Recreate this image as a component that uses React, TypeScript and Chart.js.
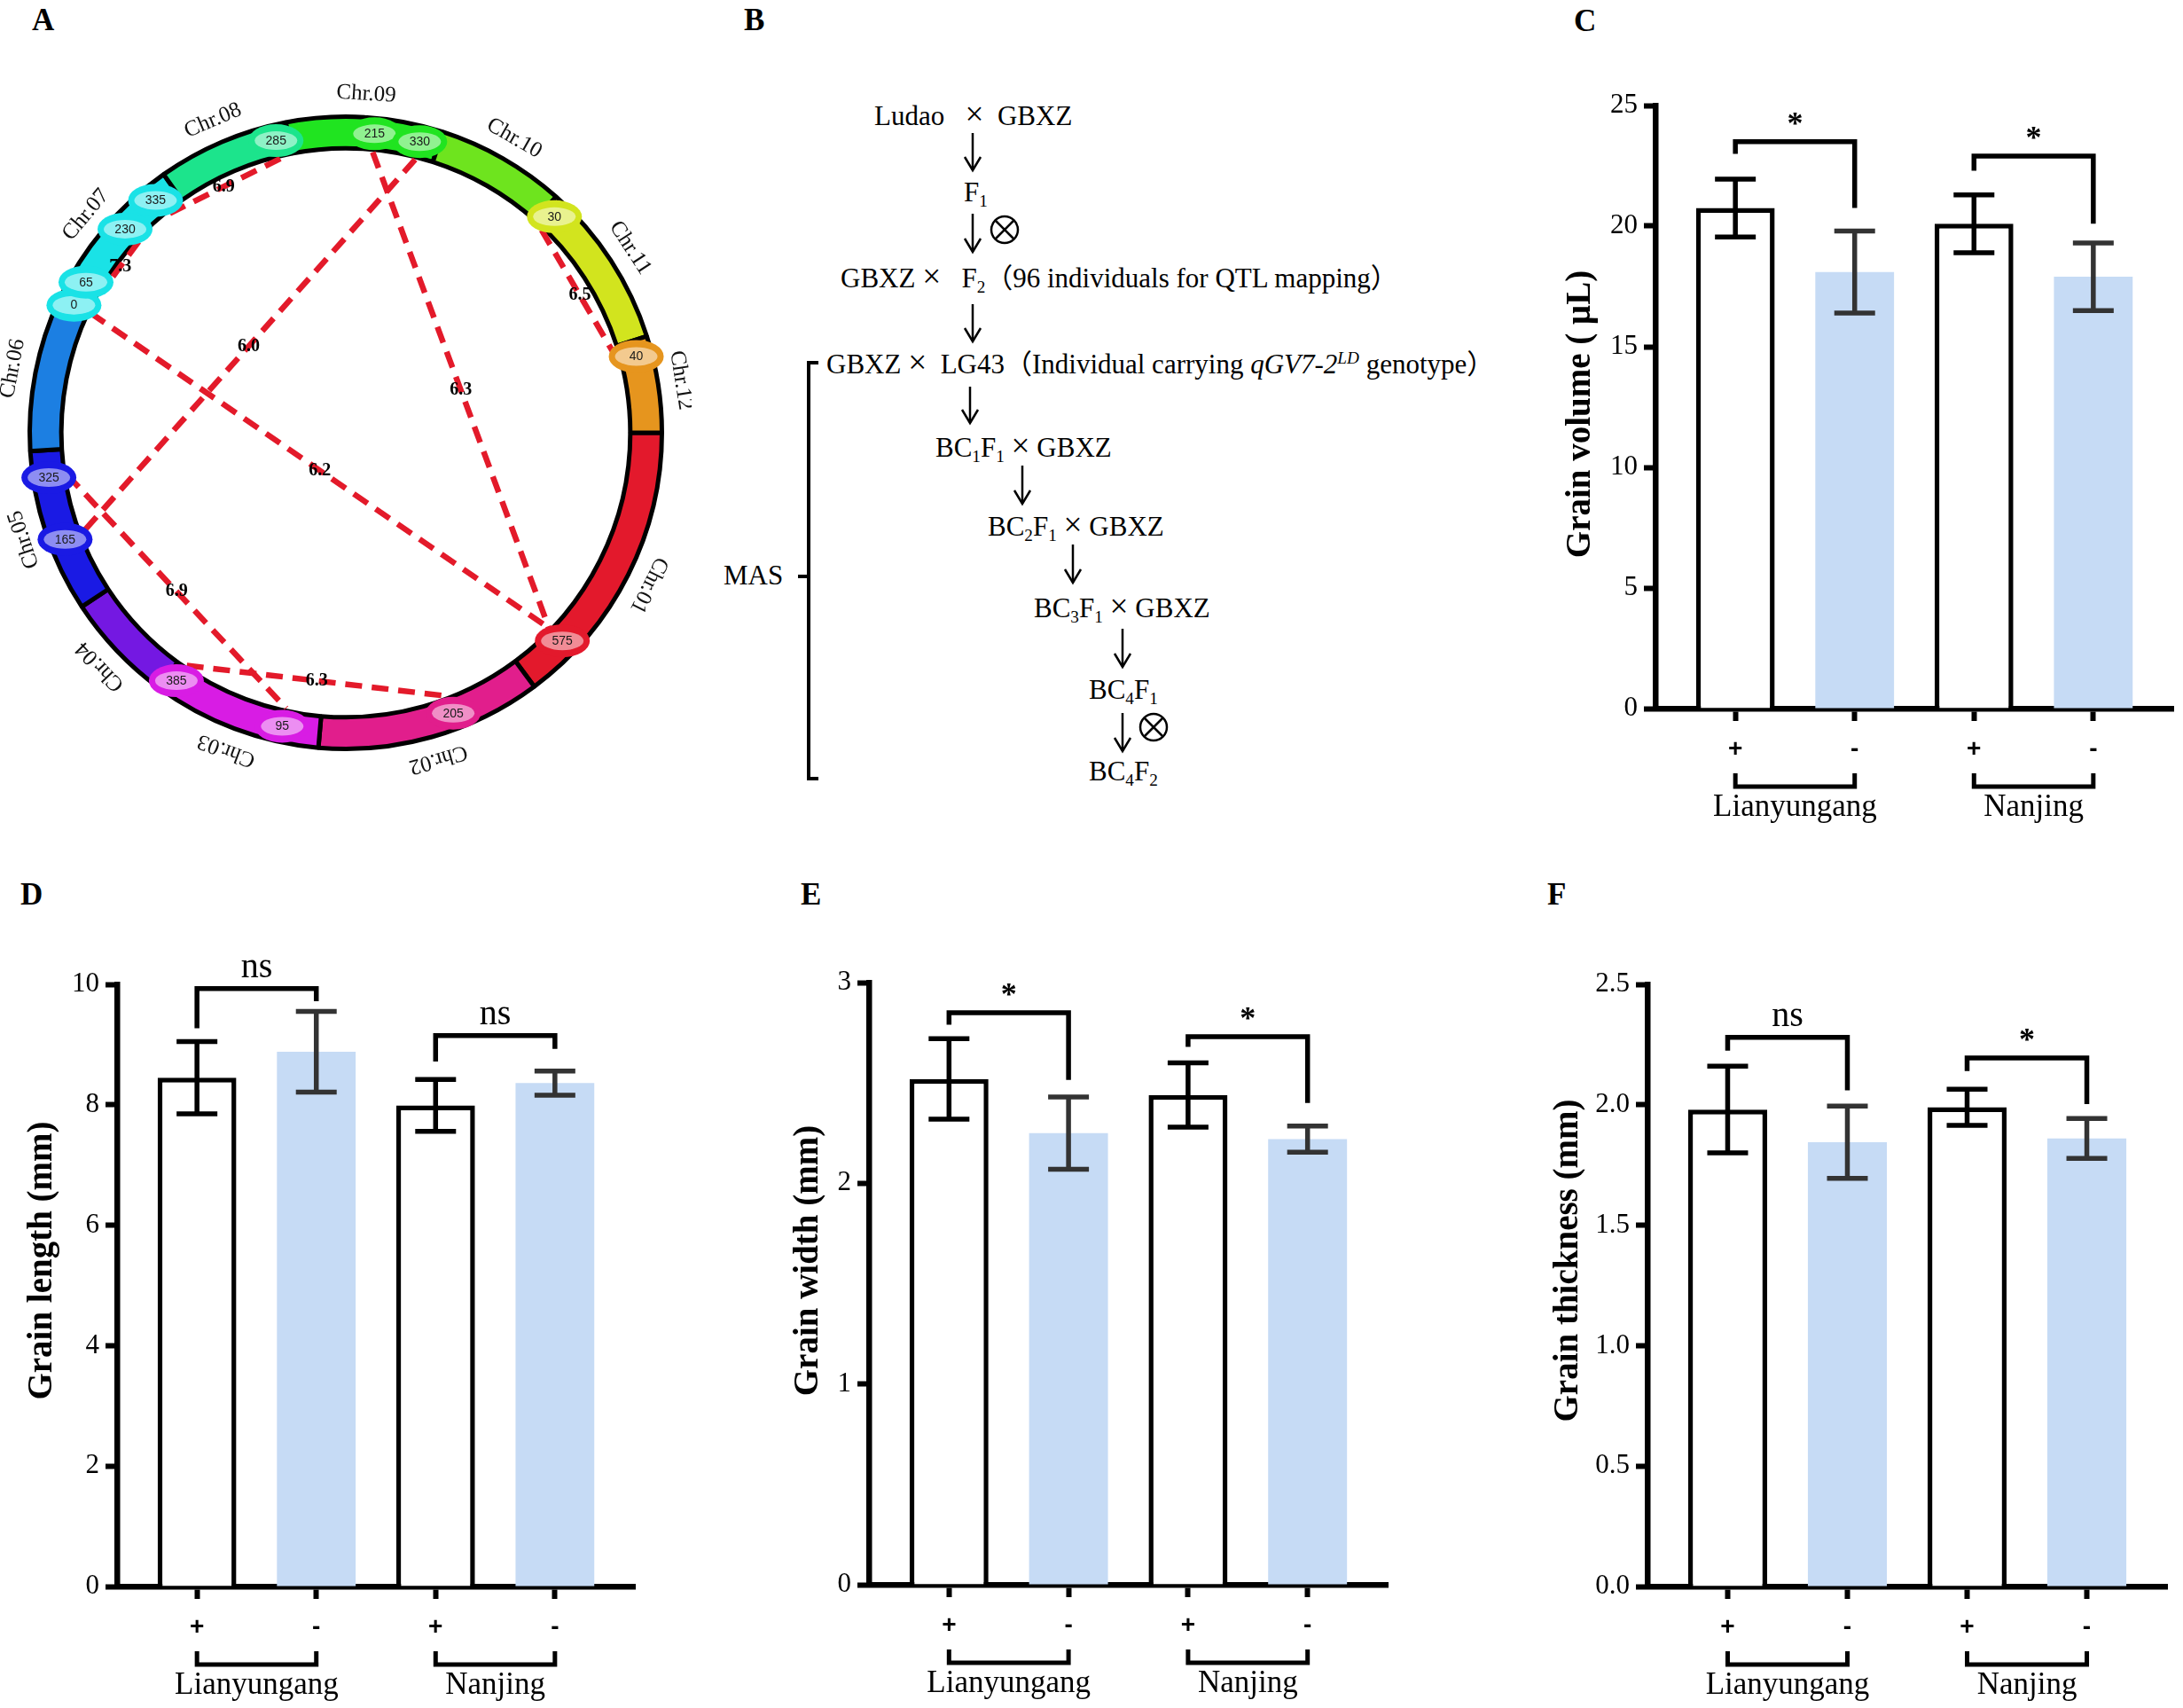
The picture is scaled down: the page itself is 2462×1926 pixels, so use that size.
import React, { useEffect, useRef } from 'react';
import { Chart, registerables } from 'chart.js';

Chart.register(...registerables);

const SERIF = '"Liberation Serif", "Times New Roman", "DejaVu Serif", serif';
const SANS = '"Liberation Sans", Arial, "DejaVu Sans", sans-serif';
Chart.defaults.font.family = SERIF;

// ---------------- Panel A data ----------------
const chrNames = ['Chr.01', 'Chr.02', 'Chr.03', 'Chr.04', 'Chr.05', 'Chr.06', 'Chr.07', 'Chr.08', 'Chr.09', 'Chr.10', 'Chr.11', 'Chr.12'];
const chrLengths = [700, 545, 410, 267, 394, 373, 389, 318, 377, 313, 400, 233];
const chrColors = ['#e3192c', '#e11e8c', '#d81ce4', '#7418e2', '#1a1ae4', '#1c7fe2', '#1ae2e6', '#1ce48c', '#20e420', '#6ee41e', '#d2e41e', '#e6951e'];
const markerChr = [1, 2, 3, 3, 5, 5, 7, 7, 7, 7, 8, 9, 9, 11, 12];
const markerPos = [575, 205, 95, 385, 165, 325, 0, 65, 230, 335, 285, 215, 330, 30, 40];
const linkFrom = [10, 8, 11, 12, 6, 5, 3, 13];
const linkTo = [9, 7, 0, 4, 0, 2, 1, 14];
const linkLod = ['6.9', '7.3', '6.3', '6.0', '6.2', '6.9', '6.3', '6.5'];

// ---------------- Bar panels data ----------------
const genotypes = ['+', '-', '+', '-'];
const locations = ['Lianyungang', 'Nanjing'];

const volumeMean = [20.75, 18.1, 20.1, 17.9];
const volumeErr = [1.2, 1.7, 1.2, 1.4];
const volumeTicks = [0, 5, 10, 15, 20, 25];
const volumeTickLabels = ['0', '5', '10', '15', '20', '25'];
const volumeSig = ['*', '*'];
const volumeSigTop = [23.5, 22.9];
const volumeSigLeft = [23.0, 22.3];
const volumeSigRight = [20.75, 20.1];

const lengthMean = [8.45, 8.88, 7.99, 8.36];
const lengthErr = [0.6, 0.67, 0.43, 0.2];
const lengthTicks = [0, 2, 4, 6, 8, 10];
const lengthTickLabels = ['0', '2', '4', '6', '8', '10'];
const lengthSig = ['ns', 'ns'];
const lengthSigTop = [9.93, 9.15];
const lengthSigLeft = [9.27, 8.72];
const lengthSigRight = [9.72, 8.93];

const widthMean = [2.52, 2.25, 2.44, 2.22];
const widthErr = [0.2, 0.18, 0.16, 0.065];
const widthTicks = [0, 1, 2, 3];
const widthTickLabels = ['0', '1', '2', '3'];
const widthSig = ['*', '*'];
const widthSigTop = [2.85, 2.73];
const widthSigLeft = [2.79, 2.68];
const widthSigRight = [2.515, 2.4];

const thickMean = [1.98, 1.845, 1.99, 1.86];
const thickErr = [0.18, 0.15, 0.075, 0.083];
const thickTicks = [0, 0.5, 1.0, 1.5, 2.0, 2.5];
const thickTickLabels = ['0.0', '0.5', '1.0', '1.5', '2.0', '2.5'];
const thickSig = ['ns', '*'];
const thickSigTop = [2.28, 2.194];
const thickSigLeft = [2.225, 2.14];
const thickSigRight = [2.06, 2.003];

// ---------------- helpers ----------------
function lighten(hex: string, t: number) {
  const n = parseInt(hex.slice(1), 16);
  const r = (n >> 16) & 255, g = (n >> 8) & 255, b = n & 255;
  const m = (c: number) => Math.round(c + (255 - c) * t);
  return `rgb(${m(r)},${m(g)},${m(b)})`;
}

const circosPlugin = {
  id: 'circos',
  afterDatasetsDraw(chart: any) {
    const ctx = chart.ctx as CanvasRenderingContext2D;
    const arcs = chart.getDatasetMeta(0).data as any[];
    if (!arcs.length) return;
    const cx = arcs[0].x, cy = arcs[0].y;
    const rIn = arcs[0].innerRadius, rOut = arcs[0].outerRadius;
    const rMid = (rIn + rOut) / 2;
    const ang = (m: number) => {
      const c = markerChr[m] - 1;
      const a = arcs[c];
      return a.startAngle + (markerPos[m] / chrLengths[c]) * (a.endAngle - a.startAngle);
    };
    const pt = (a: number, r: number) => [cx + r * Math.cos(a), cy + r * Math.sin(a)];
    ctx.save();
    // links
    ctx.strokeStyle = '#e31a2a';
    ctx.lineWidth = 6.5;
    ctx.lineCap = 'butt';
    ctx.setLineDash([19, 11]);
    linkFrom.forEach((f, k) => {
      const [x1, y1] = pt(ang(f), rIn - 3);
      const [x2, y2] = pt(ang(linkTo[k]), rIn - 3);
      ctx.beginPath();
      ctx.moveTo(x1, y1);
      ctx.lineTo(x2, y2);
      ctx.stroke();
    });
    ctx.setLineDash([]);
    // markers
    markerPos.forEach((p, m) => {
      const [x, y] = pt(ang(m), rMid);
      const col = chrColors[markerChr[m] - 1];
      ctx.fillStyle = col;
      ctx.beginPath();
      ctx.ellipse(x, y, 31, 18.5, 0, 0, Math.PI * 2);
      ctx.fill();
      ctx.fillStyle = lighten(col, 0.5);
      ctx.beginPath();
      ctx.ellipse(x, y, 24, 10.5, 0, 0, Math.PI * 2);
      ctx.fill();
      ctx.fillStyle = '#1a1a1a';
      ctx.font = `14px ${SANS}`;
      ctx.textAlign = 'center';
      ctx.textBaseline = 'middle';
      ctx.fillText(String(p), x, y + 0.5);
    });
    // link labels
    ctx.font = `bold 20px ${SERIF}`;
    ctx.fillStyle = '#000';
    ctx.textAlign = 'center';
    ctx.textBaseline = 'middle';
    linkFrom.forEach((f, k) => {
      const [x1, y1] = pt(ang(f), rIn - 3);
      const [x2, y2] = pt(ang(linkTo[k]), rIn - 3);
      ctx.fillText(linkLod[k], (x1 + x2) / 2, (y1 + y2) / 2);
    });
    // chromosome labels
    ctx.font = `25px ${SERIF}`;
    ctx.fillStyle = '#111';
    arcs.forEach((a: any, i: number) => {
      const mid = (a.startAngle + a.endAngle) / 2;
      const [x, y] = pt(mid, rOut + 26);
      ctx.save();
      ctx.translate(x, y);
      ctx.rotate(mid + Math.PI / 2);
      ctx.fillText(chrNames[i], 0, 0);
      ctx.restore();
    });
    ctx.restore();
  },
};

function CircosPanel() {
  const ref = useRef<HTMLCanvasElement>(null);
  useEffect(() => {
    const chart = new Chart(ref.current as HTMLCanvasElement, {
      type: 'doughnut',
      data: {
        labels: chrNames,
        datasets: [
          {
            data: chrLengths,
            backgroundColor: chrColors,
            borderColor: '#000',
            borderWidth: 5,
            hoverOffset: 0,
            offset: 0,
          } as any,
        ],
      },
      options: {
        responsive: false,
        animation: false,
        events: [],
        rotation: 90,
        cutout: '90%',
        layout: { padding: { left: 31, right: 31, top: 129, bottom: 53 } },
        plugins: { legend: { display: false }, tooltip: { enabled: false } },
      } as any,
      plugins: [circosPlugin],
    });
    return () => chart.destroy();
  }, []);
  return <canvas ref={ref} width={780} height={900} style={{ position: 'absolute', left: 0, top: 0, width: 780, height: 900 }} />;
}

type BarSpec = {
  mean: number[];
  err: number[];
  ticks: number[];
  tickLabels: string[];
  sig: string[];
  sigTop: number[];
  sigLeft: number[];
  sigRight: number[];
  title: string;
  titleDist: number;
  titleShift: number;
  padRight: number;
};

function makeDecor(spec: BarSpec) {
  return {
    id: 'decor',
    afterDatasetsDraw(chart: any) {
      const ctx = chart.ctx as CanvasRenderingContext2D;
      const xs = chart.scales.x, ys = chart.scales.y;
      ctx.save();
      ctx.lineWidth = 5.5;
      ctx.lineCap = 'butt';
      spec.mean.forEach((m, i) => {
        const px = xs.getPixelForValue(i);
        const t = ys.getPixelForValue(m + spec.err[i]);
        const b = ys.getPixelForValue(m - spec.err[i]);
        ctx.strokeStyle = genotypes[i] === '+' ? '#000' : '#333';
        ctx.beginPath();
        ctx.moveTo(px, t);
        ctx.lineTo(px, b);
        ctx.moveTo(px - 23, t);
        ctx.lineTo(px + 23, t);
        ctx.moveTo(px - 23, b);
        ctx.lineTo(px + 23, b);
        ctx.stroke();
      });
      ctx.restore();
    },
    afterDraw(chart: any) {
      const ctx = chart.ctx as CanvasRenderingContext2D;
      const xs = chart.scales.x, ys = chart.scales.y;
      const area = chart.chartArea;
      ctx.save();
      ctx.strokeStyle = '#000';
      ctx.fillStyle = '#000';
      ctx.lineJoin = 'miter';
      ctx.lineCap = 'butt';
      // y-axis title
      ctx.save();
      ctx.translate(area.left - spec.titleDist, (area.top + area.bottom) / 2 + spec.titleShift);
      ctx.rotate(-Math.PI / 2);
      ctx.font = `bold 39px ${SERIF}`;
      ctx.textAlign = 'center';
      ctx.textBaseline = 'middle';
      ctx.fillText(spec.title, 0, 0);
      ctx.restore();
      for (let g = 0; g < locations.length; g++) {
        const xL = xs.getPixelForValue(2 * g);
        const xR = xs.getPixelForValue(2 * g + 1);
        const yT = ys.getPixelForValue(spec.sigTop[g]);
        const yL = ys.getPixelForValue(spec.sigLeft[g]);
        const yR = ys.getPixelForValue(spec.sigRight[g]);
        ctx.lineWidth = 5.5;
        ctx.beginPath();
        ctx.moveTo(xL, yL);
        ctx.lineTo(xL, yT);
        ctx.lineTo(xR, yT);
        ctx.lineTo(xR, yR);
        ctx.stroke();
        ctx.textAlign = 'center';
        ctx.textBaseline = 'alphabetic';
        if (spec.sig[g] === 'ns') {
          ctx.font = `40px ${SERIF}`;
          ctx.fillText('ns', (xL + xR) / 2, yT - 13);
        } else {
          ctx.font = `bold 36px ${SERIF}`;
          ctx.fillText(spec.sig[g], (xL + xR) / 2, yT - 9);
        }
        // group bracket
        const yb = area.bottom + 88;
        ctx.lineWidth = 5;
        ctx.beginPath();
        ctx.moveTo(xL, yb - 15);
        ctx.lineTo(xL, yb);
        ctx.lineTo(xR, yb);
        ctx.lineTo(xR, yb - 15);
        ctx.stroke();
        ctx.font = `35px ${SERIF}`;
        ctx.textBaseline = 'alphabetic';
        ctx.fillText(locations[g], (xL + xR) / 2, area.bottom + 121);
      }
      ctx.restore();
    },
  };
}

function BarPanel({ spec, left, top, width, height }: { spec: BarSpec; left: number; top: number; width: number; height: number }) {
  const ref = useRef<HTMLCanvasElement>(null);
  useEffect(() => {
    const chart = new Chart(ref.current as HTMLCanvasElement, {
      type: 'bar',
      data: {
        datasets: [
          {
            data: spec.mean.map((m, i) => ({ x: i, y: m })),
            backgroundColor: genotypes.map((g) => (g === '+' ? '#ffffff' : '#c6dbf5')),
            borderColor: genotypes.map((g) => (g === '+' ? '#000000' : 'rgba(0,0,0,0)')),
            borderWidth: genotypes.map((g) => (g === '+' ? 5.5 : 0)),
            borderSkipped: 'start',
            barPercentage: 0.66,
            categoryPercentage: 1,
          } as any,
        ],
      },
      options: {
        responsive: false,
        animation: false,
        events: [],
        layout: { padding: { left: 0, top: 70, right: spec.padRight, bottom: 0 } },
        plugins: { legend: { display: false }, tooltip: { enabled: false } },
        scales: {
          x: {
            type: 'linear',
            min: -0.67,
            max: genotypes.length - 1 + 0.67,
            offset: false,
            afterBuildTicks: (s: any) => {
              s.ticks = genotypes.map((_, i) => ({ value: i }));
            },
            afterFit: (s: any) => {
              s.height = 137;
            },
            ticks: {
              callback: (_v: any, i: number) => genotypes[i],
              font: { family: SANS, size: 28, weight: 'bold' },
              color: '#000',
              padding: 15,
              autoSkip: false,
              maxRotation: 0,
            },
            grid: { display: true, offset: false, drawOnChartArea: false, drawTicks: true, tickLength: 14, tickWidth: 6, tickColor: '#000' },
            border: { display: true, width: 6.5, color: '#000' },
          },
          y: {
            type: 'linear',
            min: spec.ticks[0],
            max: spec.ticks[spec.ticks.length - 1],
            afterBuildTicks: (s: any) => {
              s.ticks = spec.ticks.map((v) => ({ value: v }));
            },
            afterFit: (s: any) => {
              s.width = 130;
            },
            ticks: {
              callback: (_v: any, i: number) => spec.tickLabels[i],
              font: { family: SERIF, size: 31 },
              color: '#000',
              padding: 7,
            },
            grid: { display: true, drawOnChartArea: false, drawTicks: true, tickLength: 13, tickWidth: 6, tickColor: '#000' },
            border: { display: true, width: 6.5, color: '#000' },
          },
        },
      } as any,
      plugins: [makeDecor(spec)],
    });
    return () => chart.destroy();
  }, []);
  return <canvas ref={ref} width={width} height={height} style={{ position: 'absolute', left, top, width, height }} />;
}

const specC: BarSpec = { mean: volumeMean, err: volumeErr, ticks: volumeTicks, tickLabels: volumeTickLabels, sig: volumeSig, sigTop: volumeSigTop, sigLeft: volumeSigLeft, sigRight: volumeSigRight, title: 'Grain volume ( μL)', titleDist: 84, titleShift: 8, padRight: 11 };
const specD: BarSpec = { mean: lengthMean, err: lengthErr, ticks: lengthTicks, tickLabels: lengthTickLabels, sig: lengthSig, sigTop: lengthSigTop, sigLeft: lengthSigLeft, sigRight: lengthSigRight, title: 'Grain length (mm)', titleDist: 84, titleShift: -28, padRight: 46 };
const specE: BarSpec = { mean: widthMean, err: widthErr, ticks: widthTicks, tickLabels: widthTickLabels, sig: widthSig, sigTop: widthSigTop, sigLeft: widthSigLeft, sigRight: widthSigRight, title: 'Grain width (mm)', titleDist: 68, titleShift: -26, padRight: 45 };
const specF: BarSpec = { mean: thickMean, err: thickErr, ticks: thickTicks, tickLabels: thickTickLabels, sig: thickSig, sigTop: thickSigTop, sigLeft: thickSigLeft, sigRight: thickSigRight, title: 'Grain thickness (mm)', titleDist: 89, titleShift: -28, padRight: 18 };

const B_FONT = `${SERIF}, "Noto Sans CJK SC"`;

function Sub({ t }: { t: string }) {
  return <span style={{ fontSize: '0.62em', position: 'relative', top: '0.32em' }}>{t}</span>;
}

function X() {
  return <span style={{ fontSize: '1.2em', lineHeight: 0 }}>×</span>;
}

function BLine({ left, cy, children }: { left: number; cy: number; children: React.ReactNode }) {
  return (
    <div style={{ position: 'absolute', left, top: cy - 20, height: 40, lineHeight: '40px', fontSize: 31, fontFamily: B_FONT, whiteSpace: 'pre', color: '#000' }}>
      {children}
    </div>
  );
}

function PanelLetter({ left, top, t }: { left: number; top: number; t: string }) {
  return <div style={{ position: 'absolute', left, top, fontSize: 35, lineHeight: '35px', fontWeight: 'bold', fontFamily: SERIF, color: '#000' }}>{t}</div>;
}

const arrows = [
  [1097, 150, 192],
  [1097, 241, 284],
  [1097, 343, 385],
  [1094, 436, 477],
  [1153, 525, 568],
  [1210, 614, 657],
  [1266, 709, 752],
  [1266, 804, 847],
];
const selfing = [
  [1133, 259],
  [1301, 820],
];

export default function App() {
  useEffect(() => {
    document.body.style.margin = '0';
  }, []);
  return (
    <div style={{ position: 'absolute', left: 0, top: 0, width: 2462, height: 1926, background: '#fff', overflow: 'hidden' }}>
      <svg width={2462} height={1926} style={{ position: 'absolute', left: 0, top: 0 }}>
        {arrows.map(([x, y1, y2], i) => (
          <g key={i} stroke="#000" strokeWidth={2.5} fill="none">
            <line x1={x} y1={y1} x2={x} y2={y2} />
            <polyline points={`${x - 9},${y2 - 15} ${x},${y2} ${x + 9},${y2 - 15}`} />
          </g>
        ))}
        {selfing.map(([x, y], i) => (
          <g key={i} stroke="#000" strokeWidth={2.5} fill="none">
            <circle cx={x} cy={y} r={15} />
            <line x1={x - 10} y1={y - 10} x2={x + 10} y2={y + 10} />
            <line x1={x - 10} y1={y + 10} x2={x + 10} y2={y - 10} />
          </g>
        ))}
        <path d="M923,409 H912 V878 H923 M912,650 H900" stroke="#000" strokeWidth={4} fill="none" />
      </svg>

      <PanelLetter left={36} top={5} t="A" />
      <PanelLetter left={839} top={5} t="B" />
      <PanelLetter left={1775} top={6} t="C" />
      <PanelLetter left={23} top={991} t="D" />
      <PanelLetter left={903} top={991} t="E" />
      <PanelLetter left={1745} top={991} t="F" />

      <CircosPanel />

      <BLine left={986} cy={131}>
        {'Ludao\u2002 '}
        <X />
        {'  GBXZ'}
      </BLine>
      <BLine left={1087} cy={217}>
        F<Sub t="1" />
      </BLine>
      <BLine left={948} cy={314}>
        {'GBXZ '}
        <X />
        {' \u2002F'}
        <Sub t="2" />
        {'（96 individuals for QTL mapping）'}
      </BLine>
      <BLine left={932} cy={411}>
        {'GBXZ '}
        <X />
        {'\u2002LG43（Individual carrying '}
        <i>qGV7-2</i>
        <i style={{ fontSize: '0.62em', position: 'relative', top: '-0.55em' }}>LD</i>
        {' genotype）'}
      </BLine>
      <BLine left={1055} cy={505}>
        BC<Sub t="1" />F<Sub t="1" />
        {' '}
        <X />
        {' GBXZ'}
      </BLine>
      <BLine left={1114} cy={594}>
        BC<Sub t="2" />F<Sub t="1" />
        {' '}
        <X />
        {' GBXZ'}
      </BLine>
      <BLine left={1166} cy={686}>
        BC<Sub t="3" />F<Sub t="1" />
        {' '}
        <X />
        {' GBXZ'}
      </BLine>
      <BLine left={1228} cy={778}>
        BC<Sub t="4" />F<Sub t="1" />
      </BLine>
      <BLine left={1228} cy={870}>
        BC<Sub t="4" />F<Sub t="2" />
      </BLine>
      <BLine left={816} cy={649}>MAS</BLine>

      <BarPanel spec={specC} left={1737} top={49} width={725} height={887} />
      <BarPanel spec={specD} left={2} top={1040} width={760} height={886} />
      <BarPanel spec={specE} left={850} top={1038} width={760} height={886} />
      <BarPanel spec={specF} left={1728} top={1040} width={734} height={886} />
    </div>
  );
}
